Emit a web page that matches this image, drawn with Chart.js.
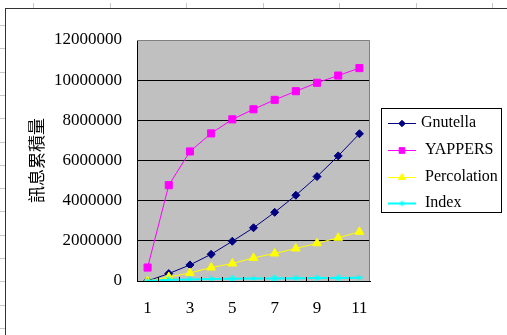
<!DOCTYPE html>
<html><head><meta charset="utf-8">
<script src="https://cdn.jsdelivr.net/npm/chart.js@4/dist/chart.umd.min.js"></script>
<style>
html,body{margin:0;padding:0;background:#fff;}
#wrap{position:relative;width:507px;height:335px;overflow:hidden;background:#fff;}
#c{position:absolute;left:0;top:0;}
#frame{position:absolute;left:5px;top:8px;width:520px;height:340px;border-left:1px solid #333;border-top:1px solid #333;pointer-events:none;}
.tk{position:absolute;background:#c8c8c8;}
</style></head>
<body>
<div id="wrap"><canvas id="c" width="507" height="335"></canvas><div id="frame"></div></div>
<script>
const categories = ['1','2','3','4','5','6','7','8','9','10','11'];
const seriesNames = ['Gnutella','YAPPERS','Percolation','Index'];
const gnutella = [0, 370000, 800000, 1330000, 1980000, 2650000, 3420000, 4270000, 5200000, 6230000, 7330000];
const yappers = [670000, 4770000, 6450000, 7350000, 8050000, 8550000, 9020000, 9450000, 9870000, 10230000, 10600000];
const percolation = [0, 200000, 400000, 670000, 870000, 1150000, 1370000, 1620000, 1880000, 2150000, 2450000];
const indexSeries = [0, 60000, 80000, 100000, 110000, 120000, 130000, 140000, 150000, 150000, 160000];
const yTickValues = [0, 2000000, 4000000, 6000000, 8000000, 10000000, 12000000];
const yTitle = '訊息累積量';

// decorative worksheet ticks
const wrap = document.getElementById('wrap');
for (let i = 0; i < 7; i++) {
  const d = document.createElement('div'); d.className = 'tk';
  d.style.left = (33 + i * 76.5) + 'px'; d.style.top = '3px'; d.style.width = '1px'; d.style.height = '5px';
  wrap.appendChild(d);
}
for (let i = 0; i < 14; i++) {
  const d = document.createElement('div'); d.className = 'tk';
  d.style.left = '0px'; d.style.top = (25 + i * 23.3) + 'px'; d.style.width = '5px'; d.style.height = '1px';
  wrap.appendChild(d);
}

const styles = [
  {color:'#000080', point:'rectRot', r:4, w:1},
  {color:'#FF00FF', point:'rect', r:5, w:1},
  {color:'#FFFF00', point:'triangle', r:5, w:1},
  {color:'#00FFFF', point:'star', r:3.5, w:2}
];
const dataArrays = [gnutella, yappers, percolation, indexSeries];

const bgPlugin = {
  id: 'bg',
  beforeDraw(chart) {
    const {ctx, chartArea: a} = chart;
    ctx.save(); ctx.fillStyle = '#C0C0C0';
    ctx.fillRect(a.left, a.top, a.right - a.left, a.bottom - a.top);
    ctx.restore();
  },
  afterDatasetsDraw(chart) {
    const {ctx, chartArea: a} = chart;
    const xs = chart.scales.x;
    ctx.save();
    ctx.strokeStyle = '#808080'; ctx.lineWidth = 1;
    ctx.beginPath();
    ctx.moveTo(a.left, a.top + 0.5); ctx.lineTo(a.right - 0.5, a.top + 0.5); ctx.lineTo(a.right - 0.5, a.bottom);
    ctx.stroke();
    // inward category boundary ticks
    ctx.strokeStyle = '#000';
    const n = categories.length;
    const step = (xs.getPixelForValue(1) - xs.getPixelForValue(0));
    ctx.beginPath();
    for (let i = 1; i < n; i++) {
      const x = Math.round(xs.getPixelForValue(i) - step / 2) + 0.5;
      ctx.moveTo(x, a.bottom); ctx.lineTo(x, a.bottom - 4);
    }
    ctx.stroke();
    ctx.restore();
  },
  afterDraw(chart) {
    const ctx = chart.ctx;
    ctx.save();
    const bx = 381.5, by = 108.5, bw = 120, bh = 104;
    ctx.fillStyle = '#fff'; ctx.fillRect(bx, by, bw, bh);
    ctx.strokeStyle = '#000'; ctx.lineWidth = 1; ctx.strokeRect(bx, by, bw, bh);
    const rows = [123, 150, 177, 203];
    ctx.font = '16px "Liberation Serif"';
    ctx.textBaseline = 'middle'; ctx.textAlign = 'left';
    seriesNames.forEach((name, i) => {
      const s = styles[i]; const y = rows[i];
      ctx.strokeStyle = s.color; ctx.lineWidth = s.w;
      ctx.beginPath(); ctx.moveTo(388, y + 0.5); ctx.lineTo(416, y + 0.5); ctx.stroke();
      ctx.fillStyle = s.color; ctx.strokeStyle = s.color; ctx.lineWidth = 1;
      Chart.helpers.drawPoint(ctx, {pointStyle: s.point, radius: s.r * 0.8, rotation: 0, borderWidth: 1}, 402, y + 0.5);
      ctx.fillStyle = '#000';
      ctx.fillText(name, i === 0 ? 421 : 425, y);
    });
    ctx.restore();
  }
};

new Chart(document.getElementById('c'), {
  type: 'line',
  data: {
    labels: categories,
    datasets: seriesNames.map((name, i) => ({
      label: name,
      data: dataArrays[i],
      borderColor: styles[i].color,
      backgroundColor: styles[i].color,
      borderWidth: styles[i].w,
      pointStyle: styles[i].point,
      pointRadius: styles[i].r,
      pointBorderWidth: 1,
      pointBorderColor: styles[i].color,
      pointBackgroundColor: styles[i].color,
      tension: 0,
      fill: false
    })).reverse()
  },
  options: {
    responsive: false,
    animation: false,
    events: [],
    layout: {padding: {left: 0, top: 40, right: 137, bottom: 0}},
    plugins: {legend: {display: false}, tooltip: {enabled: false}},
    scales: {
      x: {
        type: 'category',
        offset: true,
        grid: {display: false, drawTicks: false},
        border: {display: true, color: '#000', width: 1},
        ticks: {
          autoSkip: false, maxRotation: 0, padding: 17, color: '#000',
          font: {family: '"Liberation Serif"', size: 17},
          callback: function(v, i) { return i % 2 === 0 ? categories[i] : ''; }
        },
        afterFit(scale) { scale.height = 54; }
      },
      y: {
        min: 0, max: 12000000,
        afterBuildTicks(scale) { scale.ticks = yTickValues.map(v => ({value: v})); },
        grid: {
          drawTicks: false,
          color: ctx => (ctx.tick && ctx.tick.value === 12000000) ? 'rgba(0,0,0,0)' : '#000',
          lineWidth: 1
        },
        border: {display: true, color: '#000', width: 1},
        ticks: {
          padding: 15, color: '#000',
          font: {family: '"Liberation Serif"', size: 17},
          callback: v => String(v)
        },
        title: {
          display: true, text: yTitle, color: '#000',
          font: {family: '"Noto Sans CJK TC"', size: 17},
          padding: {top: 26, bottom: 0}
        },
        afterFit(scale) { scale.width = 137; }
      }
    }
  },
  plugins: [bgPlugin]
});
</script>
</body></html>
